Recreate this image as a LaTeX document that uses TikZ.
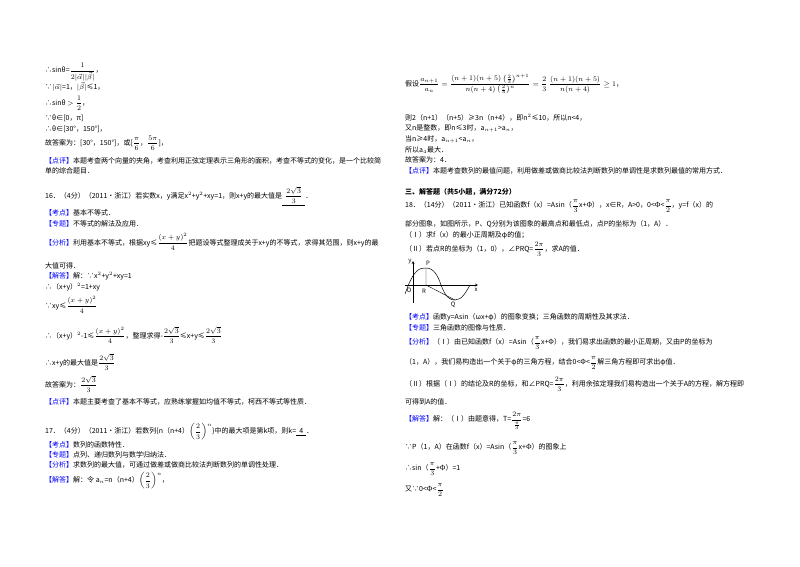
\documentclass[tikz,border=0pt]{standalone}
\usepackage{amsmath}
\usepackage{fontspec}
\setmainfont{Noto Sans CJK SC}
\newcommand\lb[1]{\textcolor{blue}{【#1】}}
\begin{document}
\begin{tikzpicture}[x=1pt,y=-1pt,
  t/.style={anchor=west,inner sep=0pt,font=\fontsize{7}{8}\selectfont},
  gl/.style={font=\fontsize{6}{7}\selectfont\itshape,inner sep=0pt}]
\useasboundingbox[fill=white] (0,0) rectangle (800,566);
% left column
\node[t] (l1) at (45,72) {∴sinθ=$\dfrac{1}{2|\vec\alpha||\vec\beta|}$，};
\node[t] (l2) at (45,87) {∵$|\vec\alpha|$=1，$|\vec\beta|$≤1，};
\node[t] (l3) at (45,103) {∴sinθ $>\dfrac12$，};
\node[t] (l4) at (45,118) {∵θ∈[0，π]};
\node[t] (l5) at (45,129) {∴θ∈[30°，150°]，};
\node[t] (l6) at (45,143) {故答案为：[30°，150°]，或[$\dfrac{\pi}{6}$，$\dfrac{5\pi}{6}$]，};
\node[t] (l7) at (45,161) {\lb{点评}本题考查两个向量的夹角，考查利用正弦定理表示三角形的面积，考查不等式的变化，是一个比较简};
\node[t] (l8) at (45,171) {单的综合题目．};
\node[t] (l9) at (45,196) {16．（4分）（2011•浙江）若实数x，y满足x$^2$+y$^2$+xy=1，则x+y的最大值是\underline{\ \ $\dfrac{2\sqrt3}{3}$\ \ }．};
\node[t] (l10) at (45,213) {\lb{考点}基本不等式．};
\node[t] (l11) at (45,224) {\lb{专题}不等式的解法及应用．};
\node[t] (l12) at (45,242) {\lb{分析}利用基本不等式，根据xy≤$\dfrac{(x+y)^2}{4}$把题设等式整理成关于x+y的不等式，求得其范围，则x+y的最};
\node[t] (l13) at (45,266) {大值可得．};
\node[t] (l14) at (45,276) {\lb{解答}解：∵x$^2$+y$^2$+xy=1};
\node[t] (l15) at (45,287) {∴（x+y）$^2$=1+xy};
\node[t] (l16) at (45,305) {∵xy≤$\dfrac{(x+y)^2}{4}$};
\node[t] (l17) at (45,335) {∴（x+y）$^2$-1≤$\dfrac{(x+y)^2}{4}$，整理求得-$\dfrac{2\sqrt3}{3}$≤x+y≤$\dfrac{2\sqrt3}{3}$};
\node[t] (l18) at (45,362) {∴x+y的最大值是$\dfrac{2\sqrt3}{3}$};
\node[t] (l19) at (45,384) {故答案为：$\dfrac{2\sqrt3}{3}$};
\node[t] (l20) at (45,402) {\lb{点评}本题主要考查了基本不等式，应熟练掌握如均值不等式，柯西不等式等性质．};
\node[t] (l21) at (45,432) {17．（4分）（2011•浙江）若数列\{n（n+4）$\left(\dfrac23\right)^n$\}中的最大项是第k项，则k=\underline{\ \ 4\ \ }．};
\node[t] (l22) at (45,445) {\lb{考点}数列的函数特性．};
\node[t] (l23) at (45,455) {\lb{专题}点列、递归数列与数学归纳法．};
\node[t] (l24) at (45,465) {\lb{分析}求数列的最大值，可通过做差或做商比较法判断数列的单调性处理．};
\node[t] (l25) at (45,481) {\lb{解答}解：令 a$_n$=n（n+4）$\left(\dfrac23\right)^n$，};
% right column
\node[t] (r1) at (405,84) {假设$\dfrac{a_{n+1}}{a_n}=\dfrac{(n+1)(n+5)\left(\frac23\right)^{n+1}}{n(n+4)\left(\frac23\right)^{n}}=\dfrac23\,\dfrac{(n+1)(n+5)}{n(n+4)}\geq1$，};
\node[t] (r2) at (405,118) {则2（n+1）（n+5）≥3n（n+4），即n$^2$≤10，所以n<4，};
\node[t] (r3) at (405,128) {又n是整数，即n≤3时，a$_{n+1}$>a$_n$，};
\node[t] (r4) at (405,139) {当n≥4时，a$_{n+1}$<a$_n$，};
\node[t] (r5) at (405,150) {所以a$_4$最大．};
\node[t] (r6) at (405,160) {故答案为：4．};
\node[t] (r7) at (405,171) {\lb{点评}本题考查数列的最值问题，利用做差或做商比较法判断数列的单调性是求数列最值的常用方式．};
\node[t,font=\fontsize{7}{8}\selectfont\bfseries] (r8) at (405,192) {三、解答题（共5小题，满分72分）};
\node[t] (r9) at (405,206) {18．（14分）（2011•浙江）已知函数f（x）=Asin（$\dfrac{\pi}{3}$x+Φ），x∈R，A>0，0<Φ<$\dfrac{\pi}{2}$，y=f（x）的};
\node[t] (r10) at (405,224) {部分图象，如图所示，P、Q分别为该图象的最高点和最低点，点P的坐标为（1，A）．};
\node[t] (r11) at (405,235) {（Ⅰ）求f（x）的最小正周期及φ的值；};
\node[t] (r12) at (405,249) {（Ⅱ）若点R的坐标为（1，0），∠PRQ=$\dfrac{2\pi}{3}$，求A的值．};
% graph
\coordinate (xa0) at (405,285); \coordinate (xa1) at (478,285);
\coordinate (ya0) at (413,303); \coordinate (ya1) at (413,261);
\coordinate (P) at (426,268); \coordinate (R) at (426,285); \coordinate (Q) at (455,300);
\draw[->,>=stealth,line width=0.4pt] (xa0) -- (xa1);
\draw[->,>=stealth,line width=0.4pt] (ya0) -- (ya1);
\draw[line width=0.5pt] (405,294) .. controls (414,268) and (420,268) .. (P) .. controls (434,268) and (438,276) .. (441,285) .. controls (446,298) and (450,300) .. (Q) .. controls (462,300) and (466,292) .. (470,285);
\draw[line width=0.4pt] (P) -- (R) -- (Q);
\node[gl] (ly) at (410,262) {y};
\node[gl] (lp) at (428,263) {P};
\node[gl] (lo) at (409,290) {O};
\node[gl] (lr) at (424,291) {R};
\node[gl] (lx) at (476,290) {x};
\node[gl] (lq) at (453,305) {Q};
\node[t] (r13) at (405,317) {\lb{考点}函数y=Asin（ωx+φ）的图象变换；三角函数的周期性及其求法．};
\node[t] (r14) at (405,328) {\lb{专题}三角函数的图像与性质．};
\node[t] (r15) at (405,343) {\lb{分析}（Ⅰ）由已知函数f（x）=Asin（$\dfrac{\pi}{3}$x+Φ），我们易求出函数的最小正周期，又由P的坐标为};
\node[t] (r16) at (405,363) {（1，A），我们易构造出一个关于φ的三角方程，结合0<Φ<$\dfrac{\pi}{2}$解三角方程即可求出φ值．};
\node[t] (r17) at (405,384) {（Ⅱ）根据（Ⅰ）的结论及R的坐标，和∠PRQ=$\dfrac{2\pi}{3}$，利用余弦定理我们易构造出一个关于A的方程，解方程即};
\node[t] (r18) at (405,402) {可得到A的值．};
\node[t] (r19) at (405,421) {\lb{解答}解：（Ⅰ）由题意得，T=$\dfrac{2\pi}{\frac{\pi}{3}}$=6};
\node[t] (r20) at (405,448) {∵P（1，A）在函数f（x）=Asin（$\dfrac{\pi}{3}$x+Φ）的图象上};
\node[t] (r21) at (405,469) {∴sin（$\dfrac{\pi}{3}$+Φ）=1};
\node[t] (r22) at (405,490) {又∵0<Φ<$\dfrac{\pi}{2}$};
\end{tikzpicture}
\end{document}
